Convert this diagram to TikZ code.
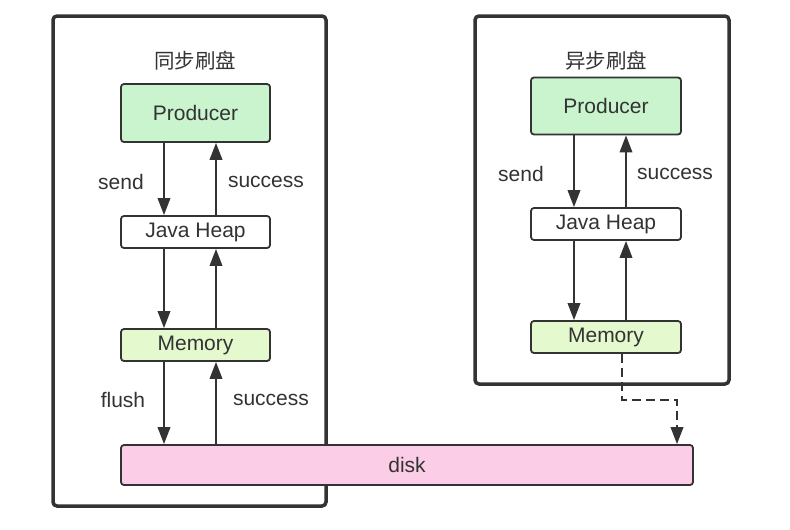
\documentclass[tikz,border=0pt]{standalone}
\usepackage{fontspec}
\setmainfont{Liberation Sans}
\newfontfamily\cjk{Noto Sans CJK SC}
\usetikzlibrary{arrows.meta}
\definecolor{ink}{HTML}{333333}
\definecolor{prodfill}{HTML}{C9F4CD}
\definecolor{memfill}{HTML}{E4F9CD}
\definecolor{diskfill}{HTML}{FBCDE6}
\tikzset{
  outer/.style={draw=ink, line width=3.5pt, rounded corners=4pt},
  box/.style={draw=ink, line width=1.8pt, rounded corners=3pt, inner sep=0pt, text=ink,
              font=\fontsize{21}{25}\selectfont},
  lbl/.style={text=ink, font=\fontsize{21}{25}\selectfont, inner sep=0pt},
  ttl/.style={text=ink, font=\cjk\fontsize{20.5}{25}\selectfont, inner sep=0pt},
  arr/.style={draw=ink, line width=2pt, -{Triangle[length=17pt,width=12.5pt]}},
  dsh/.style={draw=ink, line width=2pt, dash pattern=on 9pt off 5pt, -{Triangle[length=17pt,width=12.5pt]}}
}
\begin{document}
\begin{tikzpicture}[x=1pt,y=-1pt]
\useasboundingbox (0,0) rectangle (790,530);
\fill[white] (0,0) rectangle (790,530);
% outer frames
\draw[outer] (53,16) rectangle (326,506);
\draw[outer] (475,16) rectangle (729,384);
% titles
\node[ttl] (lt) at (195,61) {同步刷盘};
\node[ttl] (rt) at (606,61) {异步刷盘};
% left column
\node[box, fill=prodfill, minimum width=149pt, minimum height=58pt] (lprod) at (195.5,113) {Producer};
\node[box, fill=white, minimum width=149pt, minimum height=32pt] (ljh) at (195.5,232) {Java Heap};
\node[box, fill=memfill, minimum width=149pt, minimum height=32pt] (lmem) at (195.5,345) {Memory};
% right column
\node[box, fill=prodfill, minimum width=150pt, minimum height=57pt] (rprod) at (606,106) {Producer};
\node[box, fill=white, minimum width=150pt, minimum height=32pt] (rjh) at (606,224) {Java Heap};
\node[box, fill=memfill, minimum width=150pt, minimum height=32pt] (rmem) at (606,337) {Memory};
% disk
\node[box, fill=diskfill, minimum width=572pt, minimum height=40pt] (disk) at (407,465) {disk};
% column x positions
\coordinate (lx1) at (164,0);
\coordinate (lx2) at (216,0);
\coordinate (rx1) at (574,0);
\coordinate (rx2) at (626,0);
\coordinate (rd1) at (622,0);
\coordinate (rd2) at (677,0);
% left arrows
\draw[arr] (lprod.south -| lx1) -- (ljh.north -| lx1);
\draw[arr] (ljh.north -| lx2) -- (lprod.south -| lx2);
\draw[arr] (ljh.south -| lx1) -- (lmem.north -| lx1);
\draw[arr] (lmem.north -| lx2) -- (ljh.south -| lx2);
\draw[arr] (lmem.south -| lx1) -- (disk.north -| lx1);
\draw[arr] (disk.north -| lx2) -- (lmem.south -| lx2);
% right arrows
\draw[arr] (rprod.south -| rx1) -- (rjh.north -| rx1);
\draw[arr] (rjh.north -| rx2) -- (rprod.south -| rx2);
\draw[arr] (rjh.south -| rx1) -- (rmem.north -| rx1);
\draw[arr] (rmem.north -| rx2) -- (rjh.south -| rx2);
\draw[dsh] (rmem.south -| rd1) -- ++(0,46) -| (disk.north -| rd2);
% labels
\node[lbl] (ls) at (121,182) {send};
\node[lbl] (lsu) at (266,182) {success};
\node[lbl] (lf) at (123,400) {flush};
\node[lbl] (lsu2) at (271,400) {success};
\node[lbl] (rs) at (521,174) {send};
\node[lbl] (rsu) at (675,174) {success};
\end{tikzpicture}
\end{document}
